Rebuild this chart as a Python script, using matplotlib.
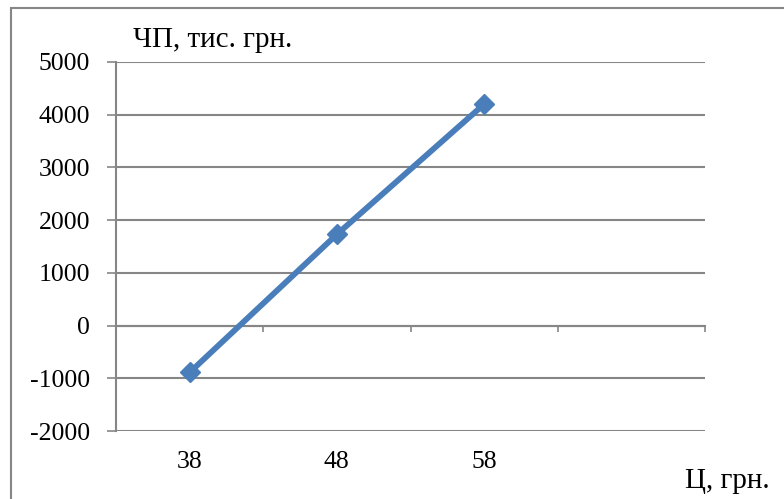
import matplotlib
matplotlib.use("Agg")
import matplotlib.pyplot as plt
from matplotlib.patches import Rectangle
import matplotlib.transforms as mtransforms

plt.rcParams['font.family'] = ['Liberation Serif', 'DejaVu Serif']

categories = ["38", "48", "58", ""]
values = [-890, 1730, 4200]
y_ticks = [-2000, -1000, 0, 1000, 2000, 3000, 4000, 5000]
y_label = "ЧП, тис. грн."
x_label = "Ц, грн."

W, H = 784, 499
FS = 18.5
LFS = 21
fig = plt.figure(figsize=(W / 100, H / 100), dpi=100)

# outer frame
fig.patches.append(Rectangle((11 / W, -0.1), 1.2, (H - 8) / H + 0.1, transform=fig.transFigure,
                             fill=False, edgecolor='#868686', linewidth=1.5))

ax = fig.add_axes([116 / W, (H - 431) / H, (705 - 116) / W, (431 - 62) / H])
n = len(categories)
xs = list(range(len(values)))
ax.plot(xs, values, color='#4A7EBB', linewidth=4.2, marker='D', markersize=10.5,
        markeredgecolor='#4A7EBB', markerfacecolor='#4A7EBB', zorder=5)

ax.set_xlim(-0.5, n - 0.5)
ax.set_ylim(y_ticks[0], y_ticks[-1])
ax.set_yticks(y_ticks)
ax.set_yticklabels([str(t) for t in y_ticks], fontsize=FS)
ax.yaxis.grid(True, color='#868686', linewidth=1.5)
ax.set_axisbelow(True)

for s in ['top', 'right']:
    ax.spines[s].set_visible(False)
ax.spines['left'].set_color('#868686')
ax.spines['left'].set_linewidth(1.5)
ax.spines['bottom'].set_position(('data', 0))
ax.spines['bottom'].set_color('#868686')
ax.spines['bottom'].set_linewidth(1.5)

ax.tick_params(axis='y', direction='out', length=6.5, width=1.2, color='#868686', pad=12)
ax.set_xticks([i + 0.5 for i in range(n)])
ax.set_xticklabels([])
ax.tick_params(axis='x', direction='out', length=4.5, width=1.2, color='#868686')

trans = mtransforms.blended_transform_factory(ax.transData, ax.transAxes)
for i, c in enumerate(categories):
    ax.text(i, -0.085, c, transform=trans, ha='center', va='center', fontsize=FS)

fig.text(133 / W, 1 - 47 / H, y_label, ha='left', va='baseline', fontsize=LFS)
fig.text(685 / W, 1 - 488 / H, x_label, ha='left', va='baseline', fontsize=LFS)

fig.savefig("out.png", dpi=100)
